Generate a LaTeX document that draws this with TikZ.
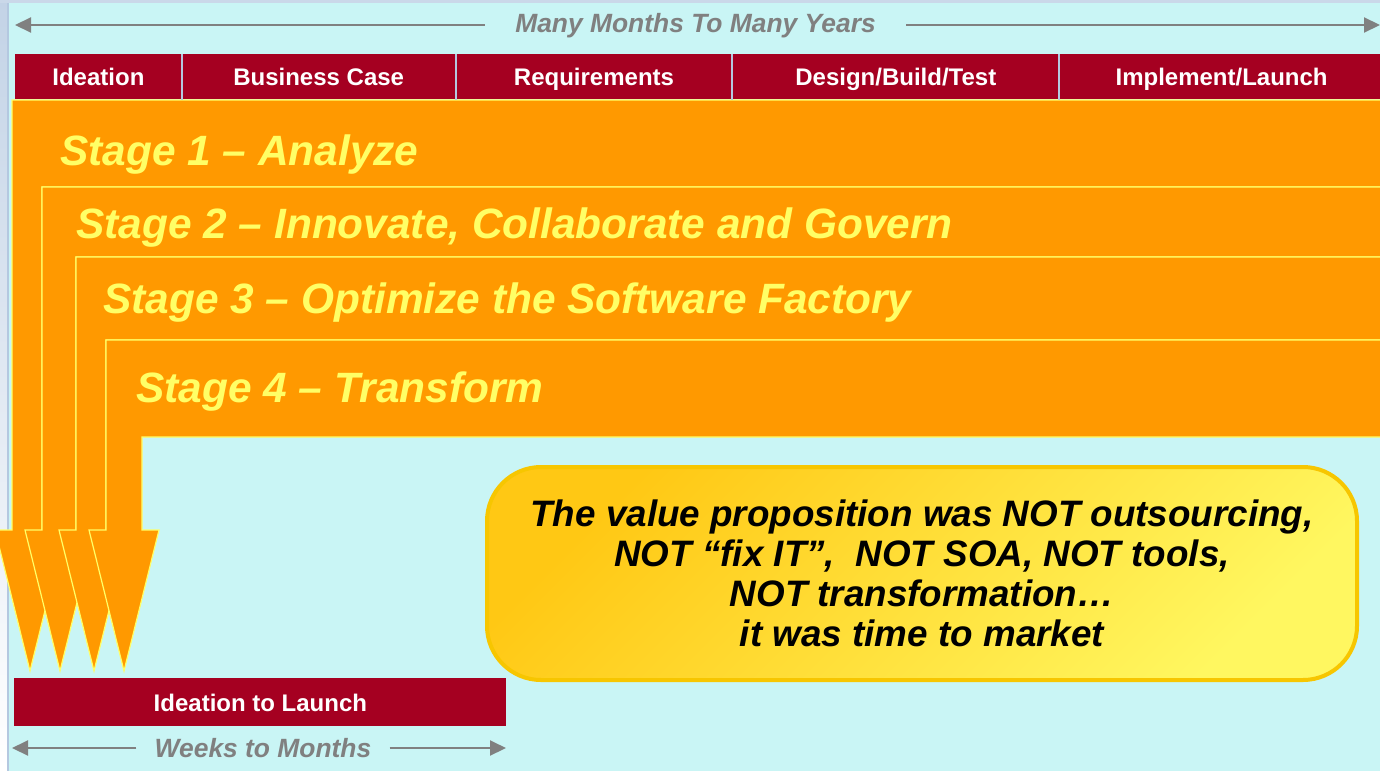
\documentclass[tikz,border=0pt]{standalone}
\usepackage{fontspec}
\setmainfont{Liberation Sans}
\usetikzlibrary{positioning,arrows.meta}

\definecolor{sky}{HTML}{C9F5F5}
\definecolor{wine}{HTML}{A50021}
\definecolor{amber}{HTML}{FF9900}
\definecolor{lemon}{HTML}{FFFF66}
\definecolor{steel}{HTML}{B4C8E0}
\definecolor{ash}{HTML}{808080}
\definecolor{msgtop}{HTML}{FFC814}
\definecolor{msgbot}{HTML}{FFF760}
\definecolor{msgrim}{HTML}{F7C600}

\begin{document}
\begin{tikzpicture}[x=0.5pt, y=-0.5pt,
hdr/.style={rectangle, fill=wine, text=white, inner sep=0pt, minimum height=22.5pt, text height=8.6pt, text depth=0pt, font=\bfseries\fontsize{12}{14}\selectfont},
stg/.style={fill=amber, draw=lemon, line width=0.6pt, line join=miter},
stglab/.style={anchor=base west, inner sep=0pt, text=lemon, font=\bfseries\itshape\fontsize{21.2}{24}\selectfont},
span/.style={text=ash, inner ysep=0pt, text height=9.4pt, text depth=0pt, font=\bfseries\itshape\fontsize{13.2}{15}\selectfont},
tl/.style={draw=ash, line width=1pt, -{Triangle[length=8pt,width=7.5pt]}},
divider/.style={draw=steel, line width=1pt},
msg/.style={rectangle, rounded corners=27pt, draw=msgrim, line width=2pt, top color=msgtop, bottom color=msgbot, shading angle=45, minimum width=435pt, minimum height=106.5pt, align=center, font=\bfseries\itshape\fontsize{18.4}{20}\selectfont}]

\useasboundingbox (0,0) rectangle (1380,771);
\clip (0,0) rectangle (1380,771);

% slide background
\fill[sky] (0,0) rectangle (1380,771);
\shade[top color=steel!80, bottom color=white] (0,0) rectangle (8,771);
\draw[steel, line width=0.6pt] (8,3) -- (8,771);
\fill[steel!70] (0,0) rectangle (1380,3);

% stages, back to front
\filldraw[stg] (12,100) -- (1395,100) -- (1395,187) -- (42,187) -- (42,530) -- (65,530) -- (30,671) -- (-5,530) -- (12,530) -- cycle;
\filldraw[stg] (42,187) -- (1395,187) -- (1395,257) -- (76,257) -- (76,530) -- (95,530) -- (60,671) -- (25,530) -- (42,530) -- cycle;
\filldraw[stg] (76,257) -- (1395,257) -- (1395,340) -- (106,340) -- (106,530) -- (129,530) -- (94,671) -- (59,530) -- (76,530) -- cycle;
\filldraw[stg] (106,340) -- (1395,340) -- (1395,437) -- (142,437) -- (142,530) -- (159,530) -- (124,671) -- (89,530) -- (106,530) -- cycle;

\node[stglab] (s1) at (60,165) {Stage 1 – Analyze};
\node[stglab] (s2) at (76,238) {Stage 2 – Innovate, Collaborate and Govern};
\node[stglab] (s3) at (103,313) {Stage 3 – Optimize the Software Factory};
\node[stglab] (s4) at (136,402) {Stage 4 – Transform};

% phase bar
\node[hdr, minimum width=83pt, anchor=north west] (ide) at (15,54) {Ideation};
\node[hdr, minimum width=136.5pt, right=0pt of ide] (bcase) {Business Case};
\node[hdr, minimum width=138pt, right=0pt of bcase] (req) {Requirements};
\node[hdr, minimum width=163pt, right=0pt of req] (dbt) {Design/Build/Test};
\node[hdr, minimum width=162pt, right=0pt of dbt] (impl) {Implement/Launch};
\draw[divider] (ide.north east) -- (ide.south east);
\draw[divider] (bcase.north east) -- (bcase.south east);
\draw[divider] (req.north east) -- (req.south east);
\draw[divider] (dbt.north east) -- (dbt.south east);

% long span
\node[span, inner xsep=15pt] (years) at (695.5,23) {Many Months To Many Years};
\coordinate (yl) at (15,25);
\coordinate (yr) at (1380,25);
\draw[tl] (years.west |- yl) -- (yl);
\draw[tl] (years.east |- yr) -- (yr);

% short span
\node[hdr, minimum width=246pt, minimum height=24pt, anchor=north west] (i2l) at (14,678) {Ideation to Launch};
\node[span, inner xsep=9pt] (weeks) at (263,748) {Weeks to Months};
\coordinate (wl) at (12,748);
\coordinate (wr) at (506,748);
\draw[tl] (weeks.west |- wl) -- (wl);
\draw[tl] (weeks.east |- wr) -- (wr);

\node[msg] (point) at (922,573.5) {The value proposition was NOT outsourcing,\\
NOT “fix IT”,~~NOT SOA, NOT tools,\\
NOT transformation…\\
it was time to market};
\end{tikzpicture}
\end{document}
